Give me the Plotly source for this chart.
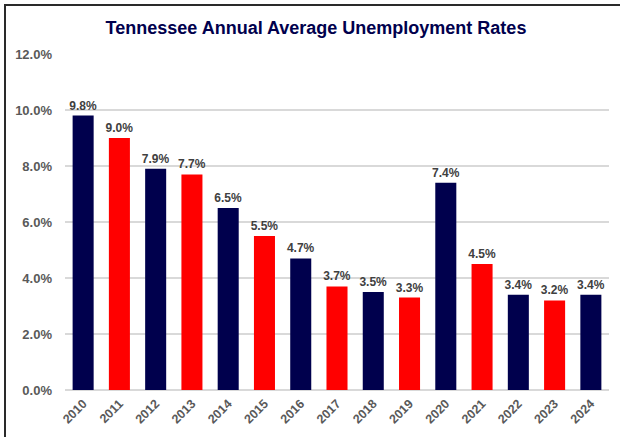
import plotly.graph_objects as go

years = ["2010", "2011", "2012", "2013", "2014", "2015", "2016", "2017",
         "2018", "2019", "2020", "2021", "2022", "2023", "2024"]
rates = [9.8, 9.0, 7.9, 7.7, 6.5, 5.5, 4.7, 3.7, 3.5, 3.3, 7.4, 4.5, 3.4, 3.2, 3.4]
labels = [f"<b>{v:.1f}%</b>" for v in rates]

NAVY = "#00004D"
RED = "#FF0000"
colors = [NAVY if i % 2 == 0 else RED for i in range(len(years))]

FONT = "Liberation Sans, Arial, sans-serif"

fig = go.Figure(go.Bar(
    x=years, y=rates, marker=dict(color=colors, line=dict(width=0)),
    text=labels, textposition="outside", cliponaxis=False, constraintext="none",
    textfont=dict(family=FONT, size=12, color="#404040"),
))

fig.update_layout(
    width=620, height=437,
    margin=dict(l=65, r=11, t=54, b=47),
    paper_bgcolor="white", plot_bgcolor="white",
    bargap=0.42,
    showlegend=False,
    title=dict(text="<b>Tennessee Annual Average Unemployment Rates</b>",
               x=316 / 620, xanchor="center", y=1 - 28 / 437, yanchor="middle",
               font=dict(family=FONT, size=18, color="#00004D")),
    font=dict(family=FONT),
)

fig.update_yaxes(range=[0, 12], dtick=2, tickformat=".1f", ticksuffix="%</b>",
                 tickprefix="<b>",
                 showgrid=True, gridcolor="#D9D9D9", gridwidth=1.5,
                 zeroline=True, zerolinecolor="#D9D9D9", zerolinewidth=1.5,
                 showline=False, ticks="", ticklabelstandoff=12,
                 tickfont=dict(family=FONT, size=13, color="#595959"))
fig.update_xaxes(tickangle=-45, showline=False, showgrid=False, ticks="",
                 tickfont=dict(family=FONT, size=12.5, color="#595959"),
                 tickprefix="<b>", ticksuffix="</b>", ticklabelstandoff=3)

# outer frame (top and left edges) drawn as an open polyline
x5 = (5 - 65) / 544
y4 = (390 - 5) / 336
ybot = (390 - 440) / 336
xr = (640 - 65) / 544
fig.add_shape(type="path", xref="paper", yref="paper",
              path=f"M {x5},{ybot} L {x5},{y4} L {xr},{y4}",
              line=dict(color="#2A2A2A", width=2), fillcolor="rgba(0,0,0,0)",
              layer="above")

fig.write_html("out.html", config={"displayModeBar": False},
               post_script="document.body.style.margin='0px';document.body.style.overflow='hidden';")
